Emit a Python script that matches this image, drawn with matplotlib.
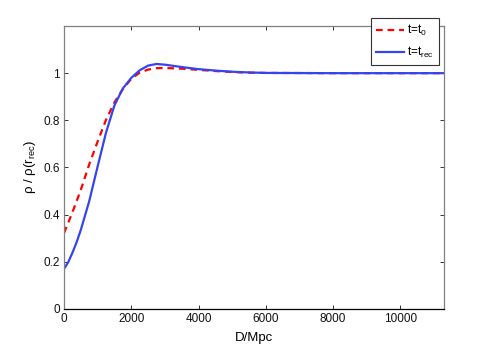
import matplotlib
matplotlib.use("Agg")
import matplotlib.pyplot as plt

# distance (Mpc) and normalised density profiles
d_mpc = [0, 125, 250, 375, 500, 750, 1000, 1250, 1500, 1750, 2000, 2250, 2500,
         2750, 3000, 3500, 4000, 4500, 5000, 5500, 6000, 8000, 11300]
rho_t0 = [0.322, 0.365, 0.41, 0.457, 0.505, 0.613, 0.71, 0.802, 0.876, 0.932,
          0.976, 1.002, 1.015, 1.021, 1.022, 1.019, 1.014, 1.009, 1.005, 1.002,
          1.001, 1.0, 1.0]
rho_trec = [0.17, 0.198, 0.238, 0.283, 0.335, 0.457, 0.604, 0.748, 0.863, 0.935,
            0.98, 1.012, 1.032, 1.039, 1.036, 1.026, 1.017, 1.011, 1.006, 1.003,
            1.001, 1.0, 1.0]

labels = [r't=t$_0$', r't=t$_{\mathrm{rec}}$']
xticks = [0, 2000, 4000, 6000, 8000, 10000]
yticks = [0, 0.2, 0.4, 0.6, 0.8, 1]

plt.rcParams['font.family'] = ['Liberation Sans', 'DejaVu Sans']
plt.rcParams['mathtext.fontset'] = 'custom'
plt.rcParams['mathtext.rm'] = 'Liberation Sans'
plt.rcParams['mathtext.it'] = 'Liberation Sans'

fig = plt.figure(figsize=(4.91, 3.48), dpi=100)
ax = fig.add_axes([0.1303, 0.1121, 0.774, 0.8132])

ax.plot(d_mpc, rho_t0, color='#ff0000', lw=1.6, linestyle=(0, (3, 2.2)),
        label=labels[0])
ax.plot(d_mpc, rho_trec, color='#3344f0', lw=1.6, label=labels[1])

ax.set_xlim(0, 11300)
ax.set_ylim(0, 1.2)
ax.set_xticks(xticks)
ax.set_yticks(yticks)
ax.set_yticklabels(['0', '0.2', '0.4', '0.6', '0.8', '1'])
ax.tick_params(direction='in', length=3, width=0.6, labelsize=8.5,
               top=True, right=True, colors='#111111', pad=3)

for side in ['top', 'right', 'left']:
    ax.spines[side].set_color('#808080')
    ax.spines[side].set_linewidth(0.9)
ax.spines['bottom'].set_color('#000000')
ax.spines['bottom'].set_linewidth(0.9)

ax.set_xlabel('D/Mpc', fontsize=9.5, labelpad=5)
ax.set_ylabel(r'ρ / ρ(r$_{\mathrm{rec}}$)', fontsize=9.5)

leg = ax.legend(loc='upper right', bbox_to_anchor=(0.894, 0.948),
                bbox_transform=fig.transFigure, borderaxespad=0,
                fontsize=8.5, fancybox=False, framealpha=1,
                edgecolor='#333333', handlelength=2.4, handletextpad=0.3,
                borderpad=0.4, labelspacing=0.6)
leg.get_frame().set_linewidth(0.8)

fig.savefig('out.png', dpi=100)
